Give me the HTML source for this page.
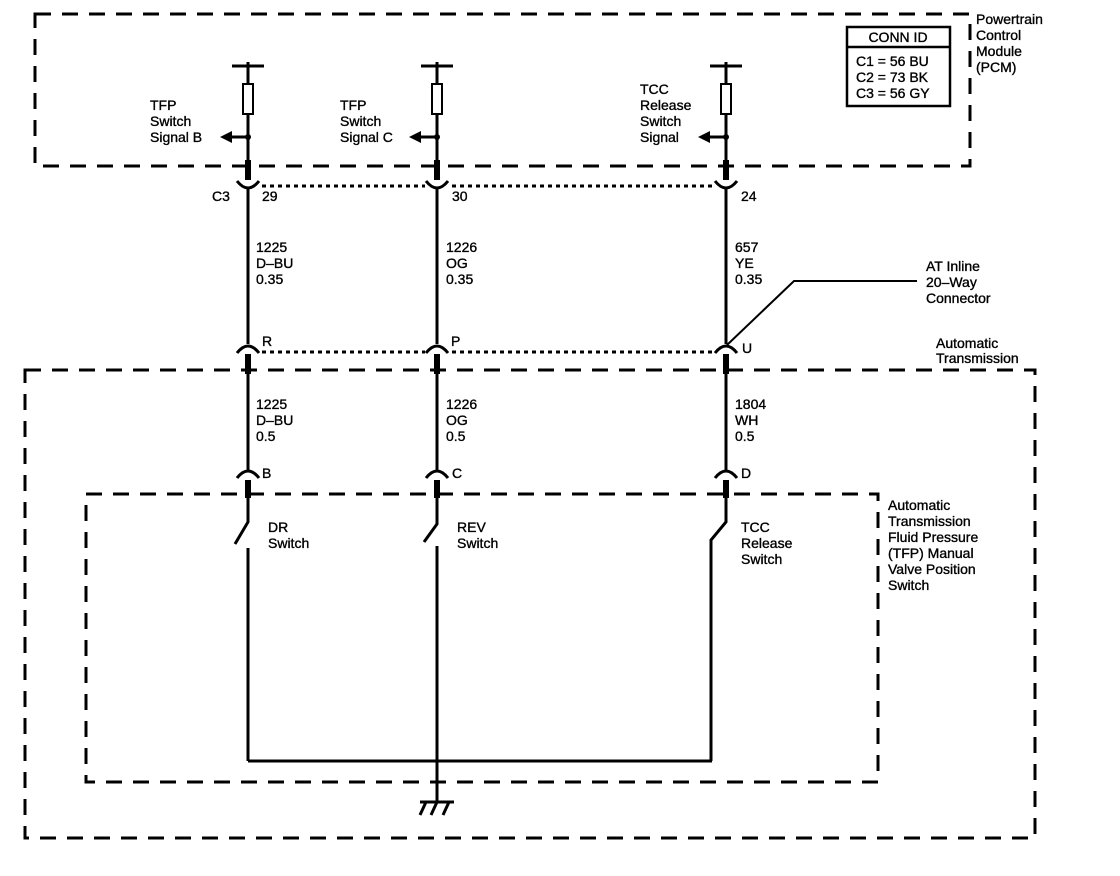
<!DOCTYPE html>
<html><head><meta charset="utf-8"><style>
html,body{margin:0;padding:0;background:#fff}
svg{display:block}
text{font-family:"Liberation Sans",Arial,sans-serif;font-size:14px;fill:#000;stroke:#000;stroke-width:0.35}
</style></head><body>
<svg width="1120" height="876" viewBox="0 0 1120 876" xmlns="http://www.w3.org/2000/svg">
<g fill="none" stroke="#000">
<rect x="35" y="14" width="935" height="152" stroke-width="3" stroke-dasharray="16,11"/>
<rect x="25" y="370" width="1010" height="468" stroke-width="3" stroke-dasharray="16,11"/>
<rect x="86" y="494" width="792" height="288" stroke-width="3" stroke-dasharray="16,11"/>
<path d="M262 186 H425 M452 186 H714" stroke-width="3" stroke-dasharray="4,4"/>
<path d="M262 352 H425 M452 352 H714" stroke-width="3" stroke-dasharray="4,4"/>
</g>
<g fill="none" stroke="#000" stroke-width="3">
<path d="M232 66 H264 M248 62 V84 M248 114 V180"/>
<rect x="243" y="84" width="10" height="30" stroke-width="2"/>
<path d="M248 137 H230"/>
<path d="M237 181 Q248 195 259 181"/>
<path d="M421 66 H453 M437 62 V84 M437 114 V180"/>
<rect x="432" y="84" width="10" height="30" stroke-width="2"/>
<path d="M437 137 H419"/>
<path d="M426 181 Q437 195 448 181"/>
<path d="M710 66 H742 M726 62 V84 M726 114 V180"/>
<rect x="721" y="84" width="10" height="30" stroke-width="2"/>
<path d="M726 137 H708"/>
<path d="M715 181 Q726 195 737 181"/>
<path d="M248 188 V344 M437 188 V344 M726 188 V344"/>
<path d="M237 353 Q248 339 259 353 M426 353 Q437 339 448 353 M715 353 Q726 339 737 353"/>
<path d="M248 360 V470 M437 360 V470 M726 360 V470"/>
<path d="M237 478 Q248 464 259 478 M426 478 Q437 464 448 478 M715 478 Q726 464 737 478"/>
<path d="M248 486 V522 L235 544 M248 548 V761"/>
<path d="M437 486 V524 L424 542 M437 546 V802"/>
<path d="M726 486 V522 L711 540 V761"/>
<path d="M248 761 H712"/>
<path d="M420 802 H454 M426 802 L420 815 M437 802 L431 815 M449 802 L443 815"/>
<path d="M917 281 H794 L727 345" stroke-width="2"/>
</g>
<g stroke="#000" stroke-width="6">
<path d="M248 160 V180 M437 160 V180 M726 160 V180"/>
<path d="M248 354 V374 M437 354 V374 M726 354 V374"/>
<path d="M248 480 V498 M437 480 V498 M726 480 V498"/>
</g>
<g fill="#000">
<circle cx="248" cy="137" r="3"/><circle cx="437" cy="137" r="3"/><circle cx="726" cy="137" r="3"/>
<polygon points="220,137 232,131 232,143"/>
<polygon points="409,137 421,131 421,143"/>
<polygon points="698,137 710,131 710,143"/>
</g>
<rect x="847" y="27" width="103" height="79" fill="none" stroke="#000" stroke-width="2.5"/>
<line x1="847" y1="47" x2="950" y2="47" stroke="#000" stroke-width="2.5"/>
<text x="898" y="42" text-anchor="middle">CONN ID</text>
<text x="856" y="66">C1 = 56 BU</text>
<text x="856" y="82">C2 = 73 BK</text>
<text x="856" y="98">C3 = 56 GY</text>
<text x="976" y="24">Powertrain</text>
<text x="976" y="40">Control</text>
<text x="976" y="56">Module</text>
<text x="976" y="72">(PCM)</text>
<text x="150" y="110">TFP</text><text x="150" y="126">Switch</text><text x="150" y="142">Signal B</text>
<text x="340" y="110">TFP</text><text x="340" y="126">Switch</text><text x="340" y="142">Signal C</text>
<text x="640" y="94">TCC</text><text x="640" y="110">Release</text><text x="640" y="126">Switch</text><text x="640" y="142">Signal</text>
<text x="212" y="201">C3</text><text x="262" y="201">29</text>
<text x="452" y="201">30</text><text x="741" y="201">24</text>
<text x="256" y="252">1225</text><text x="256" y="268">D–BU</text><text x="256" y="284">0.35</text>
<text x="446" y="252">1226</text><text x="446" y="268">OG</text><text x="446" y="284">0.35</text>
<text x="735" y="252">657</text><text x="735" y="268">YE</text><text x="735" y="284">0.35</text>
<text x="926" y="271">AT Inline</text><text x="926" y="287">20–Way</text><text x="926" y="303">Connector</text>
<text x="262" y="346">R</text><text x="451" y="346">P</text><text x="742" y="353">U</text>
<text x="936" y="348">Automatic</text><text x="936" y="363">Transmission</text>
<text x="256" y="409">1225</text><text x="256" y="425">D–BU</text><text x="256" y="441">0.5</text>
<text x="446" y="409">1226</text><text x="446" y="425">OG</text><text x="446" y="441">0.5</text>
<text x="735" y="409">1804</text><text x="735" y="425">WH</text><text x="735" y="441">0.5</text>
<text x="262" y="478">B</text><text x="452" y="478">C</text><text x="741" y="478">D</text>
<text x="268" y="532">DR</text><text x="268" y="548">Switch</text>
<text x="457" y="532">REV</text><text x="457" y="548">Switch</text>
<text x="741" y="532">TCC</text><text x="741" y="548">Release</text><text x="741" y="564">Switch</text>
<text x="888" y="510">Automatic</text><text x="888" y="526">Transmission</text><text x="888" y="542">Fluid Pressure</text>
<text x="888" y="558">(TFP) Manual</text><text x="888" y="574">Valve Position</text><text x="888" y="590">Switch</text>
</svg>
</body></html>
